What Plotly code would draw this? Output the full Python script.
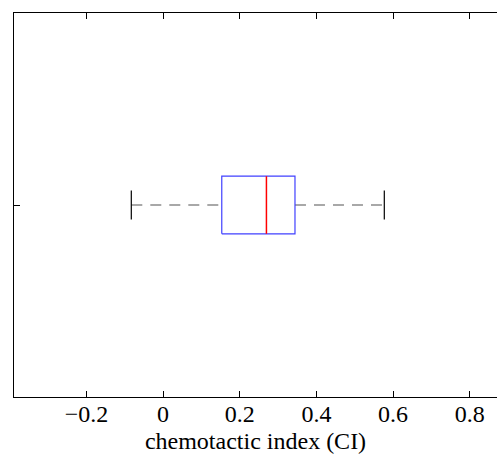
import plotly.graph_objects as go

# summary of the chemotactic index distribution
ci_lower_whisker = -0.083
ci_q1 = 0.153
ci_median = 0.2695
ci_q3 = 0.344
ci_upper_whisker = 0.577
group_pos = 1

x_ticks = [-0.2, 0, 0.2, 0.4, 0.6, 0.8]
x_ticklabels = ["\u22120.2", "0", "0.2", "0.4", "0.6", "0.8"]

half_box = 0.075
half_cap = 0.0375
y = group_pos

fig = go.Figure()

# dashed whiskers
fig.add_trace(go.Scatter(
    x=[ci_lower_whisker, ci_q1, None, ci_q3, ci_upper_whisker],
    y=[y, y, None, y, y],
    mode="lines", line=dict(color="#8c8c8c", width=1.7, dash="11px,8px"),
    hoverinfo="skip"))
# whisker caps
fig.add_trace(go.Scatter(
    x=[ci_lower_whisker, ci_lower_whisker, None, ci_upper_whisker, ci_upper_whisker],
    y=[y - half_cap, y + half_cap, None, y - half_cap, y + half_cap],
    mode="lines", line=dict(color="black", width=1.2),
    hoverinfo="skip"))
# box
fig.add_trace(go.Scatter(
    x=[ci_q1, ci_q3, ci_q3, ci_q1, ci_q1],
    y=[y - half_box, y - half_box, y + half_box, y + half_box, y - half_box],
    mode="lines", line=dict(color="#4040ff", width=1.2),
    hoverinfo="skip"))
# median
fig.add_trace(go.Scatter(
    x=[ci_median, ci_median],
    y=[y - half_box, y + half_box],
    mode="lines", line=dict(color="red", width=1.5),
    hoverinfo="skip"))

font = dict(family="Liberation Serif", size=24, color="black")

fig.update_layout(
    width=497, height=454,
    margin=dict(l=14, r=0, t=13, b=57),
    plot_bgcolor="white", paper_bgcolor="white",
    showlegend=False,
    font=font,
    xaxis=dict(
        range=[-0.389, 0.871],
        tickvals=x_ticks, ticktext=x_ticklabels,
        ticks="inside", ticklen=6, tickcolor="black", tickwidth=1,
        showline=True, linecolor="black", linewidth=1, mirror="ticks",
        showgrid=False, zeroline=False, automargin=False,
        ticklabelstandoff=-5,
        title=dict(text="chemotactic index (CI)", font=font, standoff=15),
        tickfont=font,
    ),
    yaxis=dict(
        range=[0.5, 1.5],
        tickvals=[group_pos], ticktext=[""],
        ticks="inside", ticklen=6, tickcolor="black", tickwidth=1,
        showline=True, linecolor="black", linewidth=1,
        showgrid=False, zeroline=False, automargin=False,
    ),
)

fig.write_html("out.html", config={"displayModeBar": False},
               post_script="document.body.style.margin='0px';")
